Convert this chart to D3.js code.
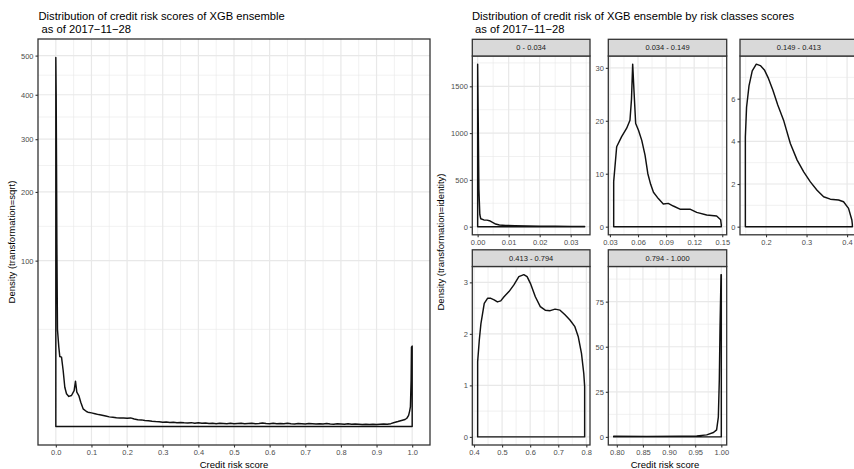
<!DOCTYPE html>
<html><head><meta charset="utf-8">
<script src="https://cdn.jsdelivr.net/npm/d3@7"></script>
<style>
body{margin:0;background:#fff}
svg text{font-family:"Liberation Sans",Arial,Helvetica,sans-serif;white-space:pre}
</style></head>
<body><svg id="c" width="854" height="469"></svg>
<script>
// ---------------- DATA ----------------
// Main chart: density of credit risk score (plotted on sqrt scale)
const mainScore = [0,0.001,0.002,0.003,0.004,0.0047,0.0084,0.0112,0.016,0.0206,0.0252,0.030,0.0364,0.044,0.0514,0.0552,0.0589,0.0645,0.070,0.0766,0.086,
  0.09,0.10,0.11,0.12,0.13,0.14,0.15,0.16,0.17,0.18,0.19,0.20,0.21,0.22,0.23,0.24,0.25,0.26,0.27,0.28,0.29,
  0.30,0.31,0.32,0.33,0.34,0.35,0.36,0.37,0.38,0.39,0.40,0.41,0.42,0.43,0.44,0.45,0.46,0.47,0.48,0.49,
  0.50,0.51,0.52,0.53,0.54,0.55,0.56,0.57,0.58,0.59,0.60,0.61,0.62,0.63,0.64,0.65,0.66,0.67,0.68,0.69,
  0.70,0.71,0.72,0.73,0.74,0.75,0.76,0.77,0.78,0.79,0.80,0.81,0.82,0.83,0.84,0.85,0.86,0.87,0.88,0.89,
  0.90,0.91,0.92,0.93,0.94,0.95,0.96,0.97,0.98,0.985,0.99,0.993,0.995,0.997,0.998,1.0];
const mainDensity = [495,400,250,120,60,34,22.9,17.8,17.5,11.4,5.6,3.9,3.3,3.5,4.7,7.5,4.3,3.5,2.15,1.14,0.82,
  0.75,0.68,0.6,0.52,0.47,0.4,0.34,0.31,0.28,0.27,0.26,0.25,0.27,0.21,0.17,0.16,0.13,0.12,0.10,0.09,0.085,
  0.07,0.075,0.06,0.065,0.05,0.06,0.05,0.045,0.055,0.04,0.05,0.04,0.045,0.035,0.04,0.03,0.04,0.035,0.03,0.04,
  0.03,0.035,0.04,0.03,0.035,0.04,0.03,0.035,0.045,0.035,0.03,0.04,0.03,0.035,0.03,0.04,0.03,0.025,0.035,0.03,
  0.025,0.035,0.03,0.025,0.03,0.025,0.035,0.025,0.02,0.03,0.025,0.02,0.03,0.02,0.025,0.02,0.015,0.02,0.015,0.02,
  0.015,0.02,0.025,0.02,0.03,0.06,0.09,0.13,0.18,0.25,0.45,0.9,1.4,7.7,22.9,23.5];
const mainXTicks = [0,0.1,0.2,0.3,0.4,0.5,0.6,0.7,0.8,0.9,1.0];
const mainXTickLabels = ["0.0","0.1","0.2","0.3","0.4","0.5","0.6","0.7","0.8","0.9","1.0"];
const mainXMinor = [0.05,0.15,0.25,0.35,0.45,0.55,0.65,0.75,0.85,0.95];
const mainYTicks = [100,200,300,400,500];
const mainYTickLabels = ["100","200","300","400","500"];
const mainYMinor = [34.3,145.7,247.5,348.2,448.6];

// Facets: density by risk class
const classLabels = ["0 - 0.034","0.034 - 0.149","0.149 - 0.413","0.413 - 0.794","0.794 - 1.000"];
const class1Score = [0,0.0002,0.0004,0.0007,0.001,0.002,0.003,0.0038,0.0048,0.0058,0.007,0.009,0.012,0.016,0.02,0.025,0.03,0.0345];
const class1Density = [1737,1100,400,130,85,72,70,64,45,28,18,13,10,8,6,4,3,2];
const class2Score = [0.034,0.0372,0.0425,0.0479,0.0514,0.053,0.0543,0.0556,0.0575,0.0605,0.064,0.0675,0.0705,0.0735,0.0765,0.0817,0.087,0.0923,0.0977,0.1048,0.1155,0.1227,0.1334,0.144,0.1483,0.149];
const class2Density = [8.5,15.1,17.0,18.6,20.1,24.0,30.7,26.0,19.5,18.2,16.3,13.5,10.0,8.0,6.5,5.3,4.3,4.4,3.9,3.3,3.3,2.7,2.2,2.0,1.3,0.3];
const class3Score = [0.149,0.152,0.158,0.166,0.176,0.186,0.196,0.206,0.217,0.229,0.244,0.26,0.2768,0.293,0.3094,0.3259,0.3421,0.3586,0.379,0.3913,0.4036,0.4118,0.413];
const class3Density = [4.2,5.6,6.6,7.3,7.62,7.55,7.35,6.95,6.4,5.7,4.95,3.9,3.12,2.57,2.10,1.71,1.40,1.29,1.25,1.17,0.86,0.31,0.1];
const class4Score = [0.413,0.4189,0.4247,0.4365,0.4482,0.4599,0.4717,0.4834,0.4952,0.5069,0.5245,0.5421,0.5597,0.5773,0.5891,0.6008,0.6184,0.636,0.6536,0.6712,0.6888,0.7064,0.724,0.7416,0.7592,0.771,0.7827,0.7909,0.794];
const class4Density = [1.46,1.88,2.20,2.59,2.69,2.69,2.66,2.62,2.64,2.72,2.82,2.95,3.11,3.15,3.11,2.98,2.72,2.53,2.46,2.45,2.48,2.46,2.37,2.27,2.14,1.95,1.62,1.23,0.98];
const class5Score = [0.794,0.857,0.921,0.953,0.972,0.985,0.991,0.9943,0.9962,0.9975,0.9988,0.9994,1.0];
const class5Density = [0.3,0.2,0.3,0.5,1.1,2.4,3.9,11,32,60,80,90,90];

const classXTicks = [[0,0.01,0.02,0.03],[0.03,0.06,0.09,0.12,0.15],[0.2,0.3,0.4],[0.4,0.5,0.6,0.7,0.8],[0.80,0.85,0.90,0.95,1.00]];
const classXTickLabels = [["0.00","0.01","0.02","0.03"],["0.03","0.06","0.09","0.12","0.15"],["0.2","0.3","0.4"],["0.4","0.5","0.6","0.7","0.8"],["0.80","0.85","0.90","0.95","1.00"]];
const classXMinor = [[0.005,0.015,0.025,0.035],[0.045,0.075,0.105,0.135],[0.15,0.25,0.35],[0.45,0.55,0.65,0.75],[0.825,0.875,0.925,0.975]];
const classYTicks = [[0,500,1000,1500],[0,10,20,30],[0,2,4,6],[0,1,2,3],[0,25,50,75]];
const classYTickLabels = [["0","500","1000","1500"],["0","10","20","30"],["0","2","4","6"],["0","1","2","3"],["0","25","50","75"]];
const classYMinor = [[250,750,1250,1750],[5,15,25],[1,3,5,7],[0.5,1.5,2.5],[12.5,37.5,62.5,87.5]];

const titleLeft = ["Distribution of credit risk scores of XGB ensemble"," as of 2017\u221211\u221228"];
const titleRight = ["Distribution of credit risk of XGB ensemble by risk classes scores"," as of 2017\u221211\u221228"];
const xTitle = "Credit risk score";
const yTitleLeft = "Density (transformation=sqrt)";
const yTitleRight = "Density (transformation=identity)";

// ---------------- DRAWING ----------------
const svg = d3.select("#c");
svg.append("rect").attr("width",854).attr("height",469).attr("fill","#fff");
const GRID = "#E8E8E8", BORDER = "#333333", TICKTXT = "#4D4D4D";

function expand(lo, hi){ const r = hi - lo; return [lo - 0.05*r, hi + 0.05*r]; }

function drawPanel(o){
  const g = svg.append("g");
  const x = o.x, y = o.y;
  g.append("rect").attr("x",o.l).attr("y",o.t).attr("width",o.r-o.l).attr("height",o.b-o.t).attr("fill","#fff");
  const vline = (v,w)=> g.append("line").attr("x1",x(v)).attr("x2",x(v)).attr("y1",o.t).attr("y2",o.b).attr("stroke",GRID).attr("stroke-width",w);
  const hline = (v,w)=> g.append("line").attr("y1",y(v)).attr("y2",y(v)).attr("x1",o.l).attr("x2",o.r).attr("stroke",GRID).attr("stroke-width",w);
  o.xMinor.forEach(v=>{ if (x(v)>o.l && x(v)<o.r) vline(v,0.6); });
  o.yMinor.forEach(v=>{ if (y(v)>o.t && y(v)<o.b) hline(v,0.6); });
  o.xMajor.forEach(v=>vline(v,1.2));
  o.yMajor.forEach(v=>hline(v,1.2));
  const area = d3.area().x((d,i)=>x(o.xs[i])).y0(y(0)).y1((d,i)=>y(o.ys[i]));
  g.append("path").attr("d",area(o.xs)).attr("fill","none").attr("stroke","#111")
    .attr("stroke-width",1.45).attr("stroke-linejoin","round");
  g.append("rect").attr("x",o.l).attr("y",o.t).attr("width",o.r-o.l).attr("height",o.b-o.t)
    .attr("fill","none").attr("stroke",BORDER).attr("stroke-width",1.3);
  const ax = g.append("g").attr("transform",`translate(0,${o.b})`)
    .call(d3.axisBottom(x).tickValues(o.xMajor).tickFormat((d,i)=>o.xLabels[i]).tickSize(2.5).tickPadding(2));
  const ay = g.append("g").attr("transform",`translate(${o.l},0)`)
    .call(d3.axisLeft(y).tickValues(o.yMajor).tickFormat((d,i)=>o.yLabels[i]).tickSize(2.5).tickPadding(2));
  [ax,ay].forEach(a=>{
    a.attr("color",TICKTXT);
    a.select(".domain").remove();
    a.selectAll(".tick line").attr("stroke",BORDER).attr("stroke-width",1.1);
    a.selectAll(".tick text").attr("fill",TICKTXT).attr("font-size",7.5)
      .attr("font-family","'Liberation Sans',Arial,sans-serif");
  });
  if (o.strip){
    g.append("rect").attr("x",o.l).attr("y",o.t-16.7).attr("width",o.r-o.l).attr("height",16.7)
      .attr("fill","#D9D9D9").attr("stroke",BORDER).attr("stroke-width",1.3);
    g.append("text").attr("x",(o.l+o.r)/2).attr("y",o.t-8.35).attr("text-anchor","middle")
      .attr("dominant-baseline","central").attr("font-size",7.5).attr("fill","#1A1A1A").text(o.strip);
  }
}

// Main panel (sqrt y scale)
const mainBox = {l:38, r:430, t:39, b:445};
const mx = d3.scaleLinear().domain(expand(d3.min(mainScore), d3.max(mainScore))).range([mainBox.l, mainBox.r]);
const sqDom = expand(0, Math.sqrt(d3.max(mainDensity)));
const my = d3.scaleSqrt().domain(sqDom.map(v=>Math.sign(v)*v*v)).range([mainBox.b, mainBox.t]);
drawPanel(Object.assign({}, mainBox, {x:mx, y:my, xMajor:mainXTicks, xLabels:mainXTickLabels, xMinor:mainXMinor,
  yMajor:mainYTicks, yLabels:mainYTickLabels, yMinor:mainYMinor, xs:mainScore, ys:mainDensity}));

// Facet panels
const cols = [[472.3,590],[608.3,726.7],[740,857.7]];
const rows = [[56,234.8],[266.5,445]];
const classScores = [class1Score,class2Score,class3Score,class4Score,class5Score];
const classDens = [class1Density,class2Density,class3Density,class4Density,class5Density];
classLabels.forEach((lab,i)=>{
  const c = cols[i%3], r = rows[Math.floor(i/3)];
  const box = {l:c[0], r:c[1], t:r[0], b:r[1]};
  const xs = classScores[i], ys = classDens[i];
  const x = d3.scaleLinear().domain(expand(d3.min(xs), d3.max(xs))).range([box.l, box.r]);
  const y = d3.scaleLinear().domain(expand(0, d3.max(ys))).range([box.b, box.t]);
  drawPanel(Object.assign({}, box, {x, y, xMajor:classXTicks[i], xLabels:classXTickLabels[i], xMinor:classXMinor[i],
    yMajor:classYTicks[i], yLabels:classYTickLabels[i], yMinor:classYMinor[i], xs, ys, strip:lab}));
});

// Titles
function title(x, lines){
  lines.forEach((t,i)=> svg.append("text").attr("x",x).attr("y",19.5+i*13).attr("font-size",11.2).attr("fill","#000").text(t));
}
title(38.5, titleLeft);
title(472, titleRight);
svg.append("text").attr("x",(mainBox.l+mainBox.r)/2).attr("y",468).attr("text-anchor","middle").attr("font-size",9.5).attr("fill","#000").text(xTitle);
svg.append("text").attr("x",(472.3+857.7)/2).attr("y",468).attr("text-anchor","middle").attr("font-size",9.5).attr("fill","#000").text(xTitle);
svg.append("text").attr("transform","translate(14.5,242) rotate(-90)").attr("text-anchor","middle").attr("font-size",9.5).attr("fill","#000").text(yTitleLeft);
svg.append("text").attr("transform","translate(443.5,242) rotate(-90)").attr("text-anchor","middle").attr("font-size",9.5).attr("fill","#000").text(yTitleRight);
</script></body></html>
